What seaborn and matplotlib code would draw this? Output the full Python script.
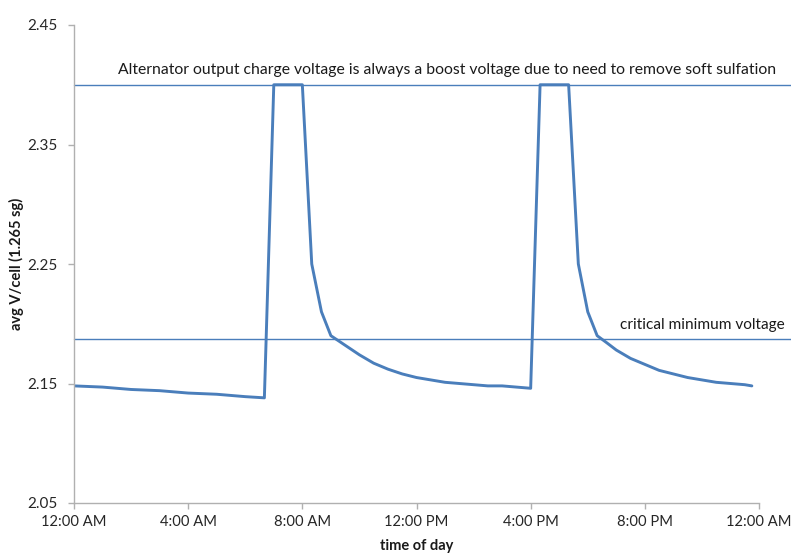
import matplotlib
matplotlib.use("Agg")
import matplotlib.pyplot as plt
import seaborn as sns
import pandas as pd

# time of day in hours since midnight
hours = [0, 1, 2, 3, 4, 5, 6, 6.67,
         7.0, 8.0, 8.33, 8.67, 9.0, 9.5, 10, 10.5, 11, 11.5, 12, 12.5, 13, 13.5, 14, 14.5, 15, 15.5, 16.0,
         16.33, 17.33, 17.67, 18.0, 18.33, 18.67, 19, 19.5, 20, 20.5, 21, 21.5, 22, 22.5, 23, 23.5, 23.75]
volts = [2.148, 2.147, 2.145, 2.144, 2.142, 2.141, 2.139, 2.138,
         2.40, 2.40, 2.25, 2.21, 2.19, 2.182, 2.174, 2.167, 2.162, 2.158, 2.155, 2.153, 2.151, 2.150, 2.149, 2.148, 2.148, 2.147, 2.146,
         2.40, 2.40, 2.25, 2.21, 2.19, 2.184, 2.178, 2.171, 2.166, 2.161, 2.158, 2.155, 2.153, 2.151, 2.150, 2.149, 2.148]

boost_voltage = 2.40
critical_voltage = 2.187

x_ticks = [0, 4, 8, 12, 16, 20, 24]
x_tick_labels = ["12:00 AM", "4:00 AM", "8:00 AM", "12:00 PM", "4:00 PM", "8:00 PM", "12:00 AM"]
y_ticks = [2.05, 2.15, 2.25, 2.35, 2.45]
y_tick_labels = ["2.05", "2.15", "2.25", "2.35", "2.45"]

boost_label = "Alternator output charge voltage is always a boost voltage due to need to remove soft sulfation"
critical_label = "critical minimum voltage"

df = pd.DataFrame({"hour": hours, "volts": volts})

sns.set_style("ticks")
plt.rcParams["font.family"] = ["Lato", "DejaVu Sans"]

fig = plt.figure(figsize=(7.91, 5.60), dpi=100)
ax = fig.add_axes([74/791, 1-503/560, (759-74)/791, (503-25)/560])

blue = "#4a7ebb"
sns.lineplot(data=df, x="hour", y="volts", ax=ax, color=blue, linewidth=2.1, sort=False)

for v in (boost_voltage, critical_voltage):
    ax.axhline(v, xmin=0, xmax=(791-74)/(759-74), color=blue, linewidth=1.0, clip_on=False, zorder=1)

ax.text(1.54, 2.4123, boost_label, fontsize=11.3, va="center", ha="left", color="#1a1a1a")
ax.text(19.12, 2.199, critical_label, fontsize=11.1, va="center", ha="left", color="#1a1a1a")

ax.set_xlim(0, 24)
ax.set_ylim(2.05, 2.45)
ax.set_xticks(x_ticks)
ax.set_xticklabels(x_tick_labels)
ax.set_yticks(y_ticks)
ax.set_yticklabels(y_tick_labels)

for s in ("top", "right"):
    ax.spines[s].set_visible(False)
for s in ("left", "bottom"):
    ax.spines[s].set_color("#b0b0b0")
    ax.spines[s].set_linewidth(1.0)
ax.tick_params(axis="both", direction="out", length=4.5, width=1.0, color="#b0b0b0",
               labelcolor="#262626")
ax.tick_params(axis="x", labelsize=10.6, pad=4)
ax.tick_params(axis="y", labelsize=11, pad=7.5)

ax.set_xlabel("time of day", fontsize=10.5, fontweight="bold", color="#1a1a1a", labelpad=7)
ax.set_ylabel("avg V/cell (1.265 sg)", fontsize=10.5, fontweight="bold", color="#1a1a1a", labelpad=2)

fig.savefig("out.png", dpi=100)
